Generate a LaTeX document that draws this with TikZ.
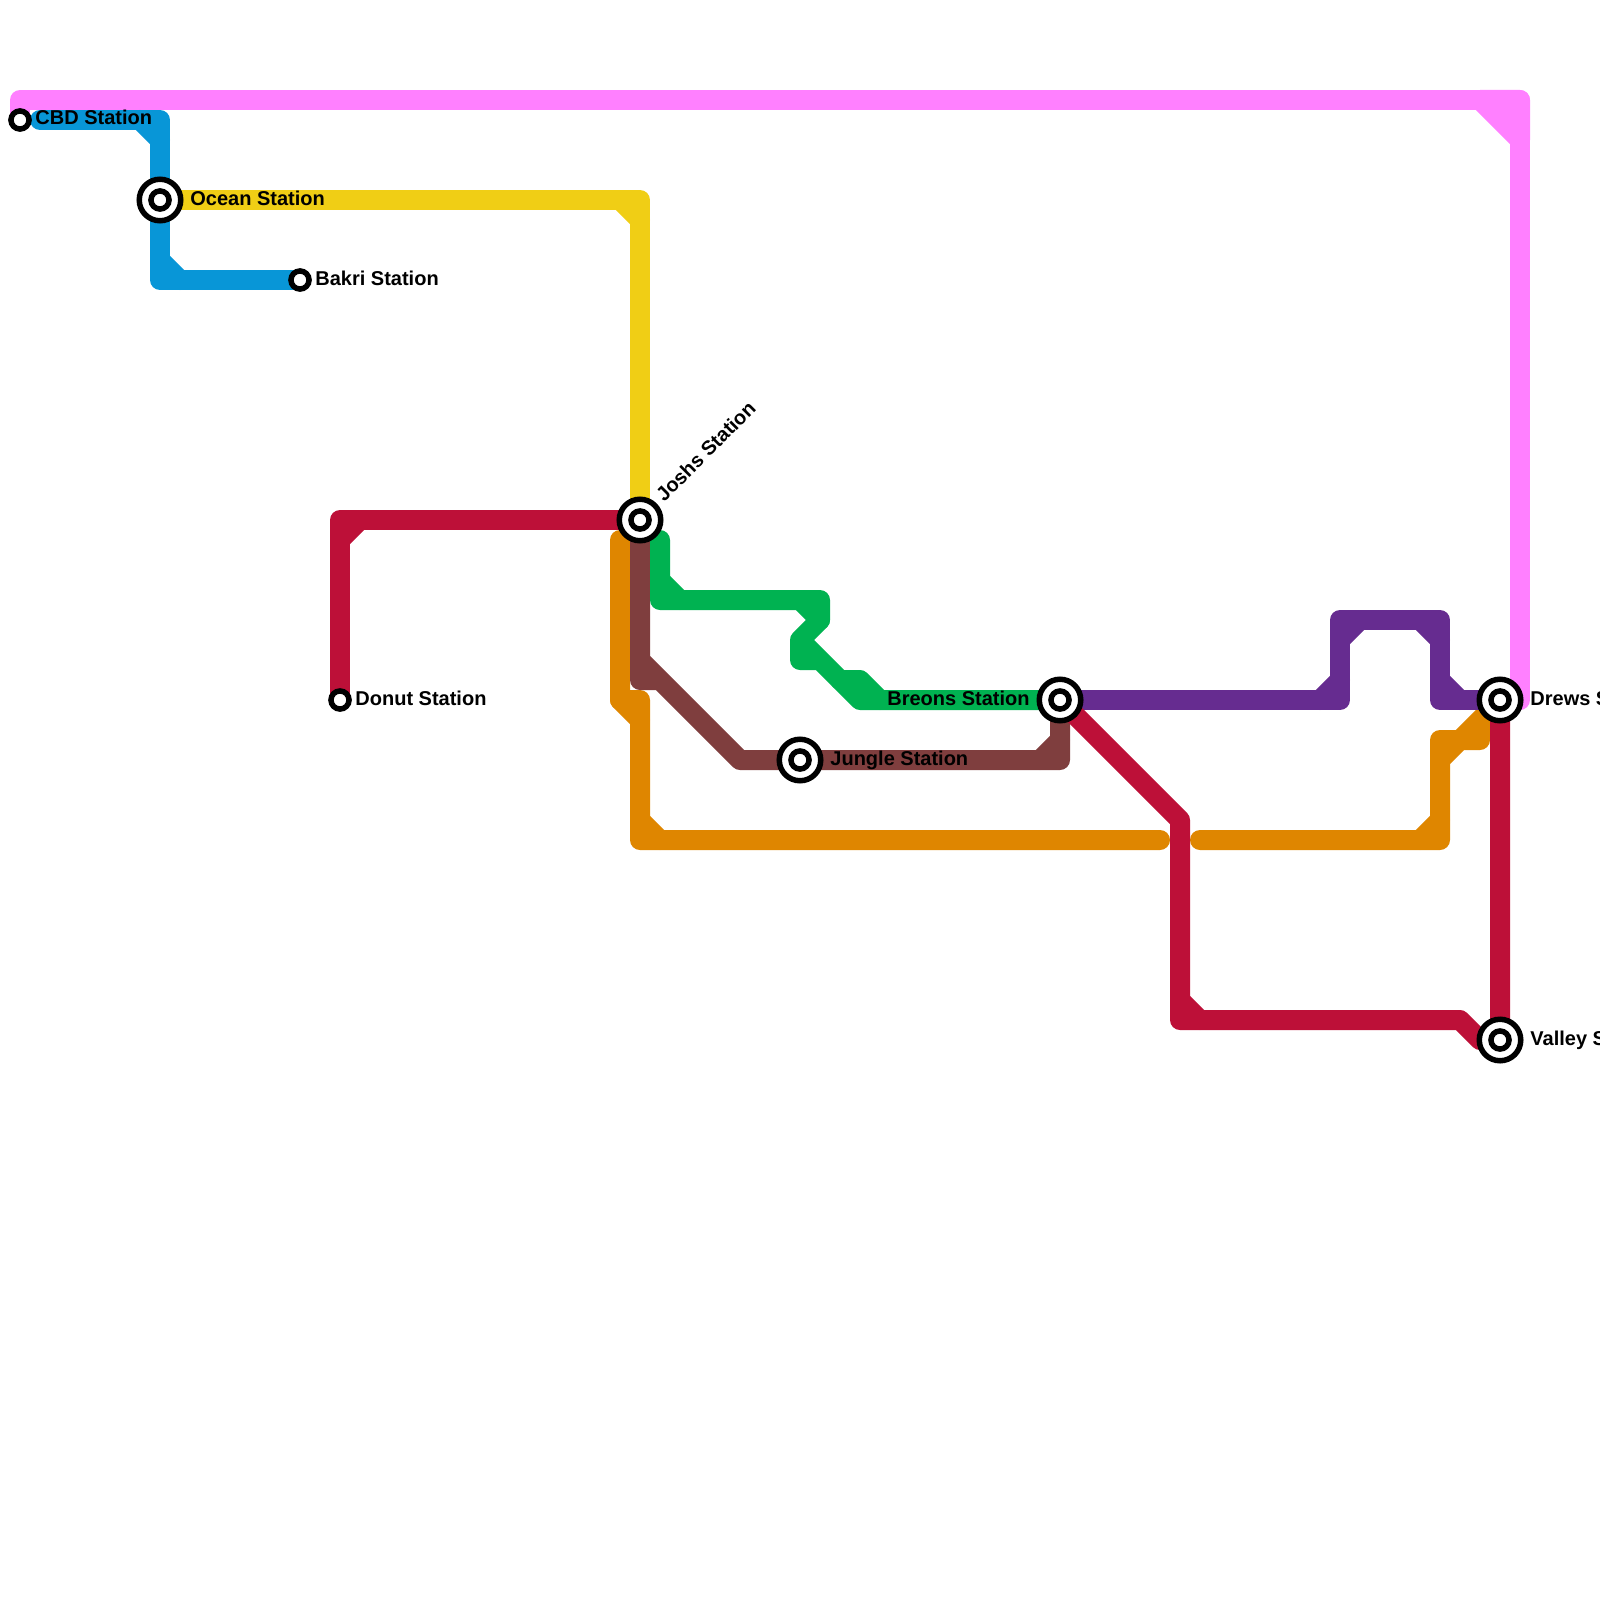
\documentclass[tikz,border=0pt]{standalone}
\usepackage{fontspec}
\setmainfont{Liberation Sans}
\usepackage{xcolor}
\definecolor{linepink}{HTML}{FF80FF}
\definecolor{lineblue}{HTML}{0896D7}
\definecolor{lineyellow}{HTML}{F0CE15}
\definecolor{linered}{HTML}{BD1038}
\definecolor{lineorange}{HTML}{DF8600}
\definecolor{linebrown}{HTML}{7F3E3E}
\definecolor{linegreen}{HTML}{00B251}
\definecolor{linepurple}{HTML}{662C90}
\pgfdeclarelayer{lines}
\pgfsetlayers{lines,main}
\tikzset{
  metro/.style={draw=#1,line width=10pt,line cap=round,line join=round},
  stationring/.style={circle,draw=black,fill=white,line width=2.75pt,inner sep=0pt,minimum size=20.75pt},
  stationcore/.style={circle,draw=black,fill=white,line width=2.75pt,inner sep=0pt,minimum size=9.05pt},
  stationname/.style={anchor=base west,inner sep=0pt,font=\bfseries\fontsize{10pt}{12pt}\selectfont}
}

\begin{document}
\begin{tikzpicture}[x=0.5pt,y=-0.5pt]
\useasboundingbox (0,0) rectangle (1600,1600);
% stations
\node[stationcore] (cbd) at (20,120) {};
\node[stationcore] (bakri) at (300,280) {};
\node[stationcore] (donut) at (340,700) {};
\node[stationring] (ocean) at (160,200) {};
\node[stationcore] (oceancore) at (ocean) {};
\node[stationring] (joshs) at (640,520) {};
\node[stationcore] (joshscore) at (joshs) {};
\node[stationring] (jungle) at (800,760) {};
\node[stationcore] (junglecore) at (jungle) {};
\node[stationring] (breons) at (1060,700) {};
\node[stationcore] (breonscore) at (breons) {};
\node[stationring] (drews) at (1500,700) {};
\node[stationcore] (drewscore) at (drews) {};
\node[stationring] (valley) at (1500,1040) {};
\node[stationcore] (valleycore) at (valley) {};
% labels
\node[stationname] (cbdname) at (35,125) {CBD Station};
\node[stationname] (oceanname) at (190,205) {Ocean Station};
\node[stationname] (bakriname) at (315,285) {Bakri Station};
\node[stationname] (donutname) at (355,705) {Donut Station};
\node[stationname,rotate=45] (joshsname) at (664,503) {Joshs Station};
\node[stationname] (junglename) at (830,765) {Jungle Station};
\node[stationname,anchor=base east] (breonsname) at (1030,705) {Breons Station};
\node[stationname] (drewsname) at (1530,705) {Drews Station};
\node[stationname] (valleyname) at (1530,1045) {Valley Station};
% lines
\begin{pgfonlayer}{lines}
\draw[metro=linepink] (cbd.center) -- (20,100) -- (1520,100) -- (1520,700);
\draw[metro=linepink,fill=linepink] (1480,100) -- (1520,100) -- (1520,140) -- cycle;
\draw[metro=lineblue] (40,120) -- (160,120) -- (160,280) -- (bakri.center);
\draw[metro=lineblue] (140,120) -- (160,140) (160,260) -- (180,280);
\draw[metro=lineyellow] (ocean.center) -- (640,200) -- (joshs.center);
\draw[metro=lineyellow] (620,200) -- (640,220);
\draw[metro=linered] (donut.center) -- (340,520) -- (joshs.center);
\draw[metro=linered] (340,540) -- (360,520);
\draw[metro=lineorange] (620,540) -- (620,700) -- (640,720) -- (640,840) -- (1160,840);
\draw[metro=lineorange] (620,700) -- (640,700) -- (640,720) (640,820) -- (660,840);
\draw[metro=lineorange] (1200,840) -- (1440,840) -- (1440,740) -- (1480,740) -- (1480,720) (1440,760) -- (drews.center);
\draw[metro=lineorange] (1420,840) -- (1440,820);
\draw[metro=linebrown] (joshs.center) -- (640,680) -- (660,680) -- (640,660) (660,680) -- (740,760) -- (1060,760) -- (breons.center);
\draw[metro=linebrown] (1040,760) -- (1060,740);
\draw[metro=linegreen] (660,540) -- (660,600) -- (820,600) -- (820,620) -- (800,640) -- (800,660) -- (820,660) -- (800,640) -- (860,700) -- (breons.center);
\draw[metro=linegreen] (660,580) -- (680,600) (800,600) -- (820,620) (840,680) -- (860,680) -- (880,700);
\draw[metro=linepurple] (breons.center) -- (1340,700) -- (1340,620) -- (1440,620) -- (1440,700) -- (drews.center);
\draw[metro=linepurple] (1320,700) -- (1340,680) (1340,640) -- (1360,620) (1420,620) -- (1440,640) (1440,680) -- (1460,700);
\draw[metro=linered] (breons.center) -- (1180,820) -- (1180,1020) -- (1460,1020) -- (1480,1040) -- (valley.center) -- (drews.center);
\draw[metro=linered] (1180,1000) -- (1200,1020);
\end{pgfonlayer}
\end{tikzpicture}
\end{document}
